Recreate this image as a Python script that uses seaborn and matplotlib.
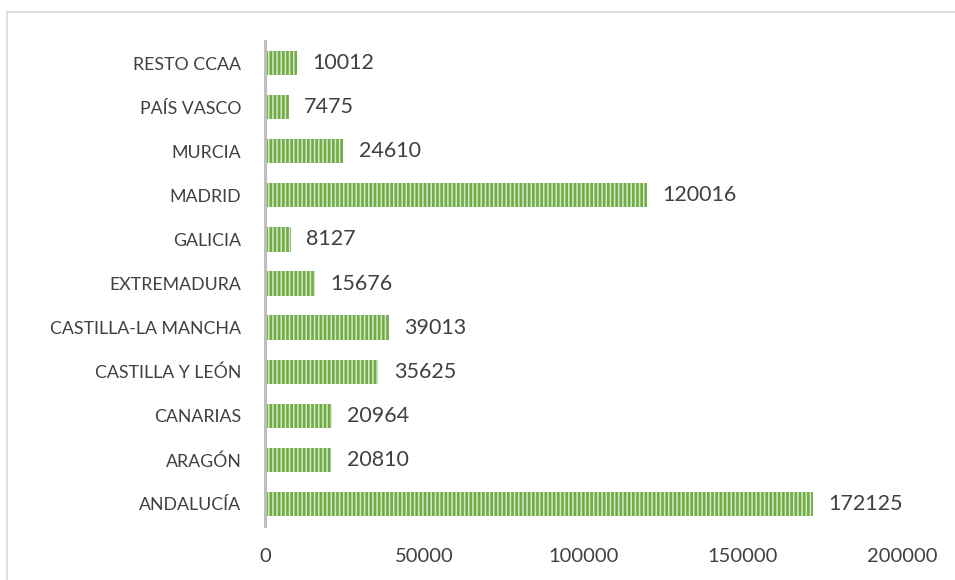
import matplotlib
matplotlib.use("Agg")
import matplotlib.pyplot as plt
import seaborn as sns
from matplotlib.patches import Rectangle

# datos (de arriba a abajo)
regiones = ["RESTO CCAA", "PAÍS VASCO", "MURCIA", "MADRID", "GALICIA",
            "EXTREMADURA", "CASTILLA-LA MANCHA", "CASTILLA Y LEÓN",
            "CANARIAS", "ARAGÓN", "ANDALUCÍA"]
valores = [10012, 7475, 24610, 120016, 8127, 15676, 39013, 35625,
           20964, 20810, 172125]
ticks_x = [0, 50000, 100000, 150000, 200000]

sns.set_theme(style="white")
plt.rcParams["font.family"] = ["Lato", "DejaVu Sans"]
plt.rcParams["hatch.linewidth"] = 1.1
plt.rcParams["hatch.color"] = "#d5e8c8"

texto = "#404040"

fig = plt.figure(figsize=(9.55, 5.8), dpi=100)
ax = fig.add_axes([265 / 955, 1 - 526 / 580, (902 - 265) / 955, (526 - 41) / 580])

sns.barplot(x=valores, y=regiones, orient="h", color="#70ad47",
            width=0.55, saturation=1, ax=ax)
for barra in ax.patches:
    barra.set_hatch("||||")
    barra.set_edgecolor("#d5e8c8")
    barra.set_linewidth(0)

ax.bar_label(ax.containers[0], labels=[str(v) for v in valores],
             padding=11, fontsize=15.5, color=texto)

ax.set_xlim(0, 200000)
ax.set_ylim(10.5, -0.5)
ax.set_xticks(ticks_x)
ax.set_xticklabels([str(t) for t in ticks_x])
ax.tick_params(axis="both", length=0, colors=texto)
ax.tick_params(axis="x", pad=16, labelsize=14.5)
ax.tick_params(axis="y", pad=17, labelsize=12.8)
ax.set_xlabel("")
ax.set_ylabel("")

for lado in ["top", "right", "bottom"]:
    ax.spines[lado].set_visible(False)
ax.spines["left"].set_color("#bfbfbf")
ax.spines["left"].set_linewidth(2.2)

# marco del gráfico
fig.patches.append(Rectangle((7 / 955, -0.05), 1.2, 1 - 12 / 580 + 0.05,
                             transform=fig.transFigure, fill=False,
                             edgecolor="#d9d9d9", linewidth=1.2))

fig.savefig("out.png", dpi=100)
